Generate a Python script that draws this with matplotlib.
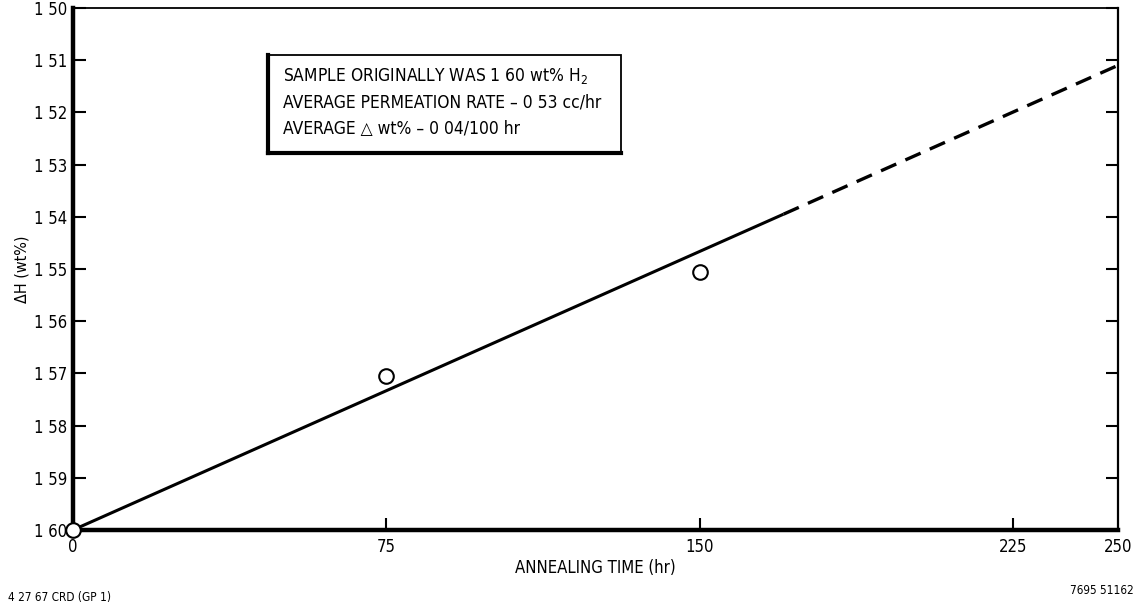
import matplotlib.pyplot as plt
from matplotlib import font_manager
from matplotlib.patches import Rectangle

# prefer a narrow face if one is installed
names = {f.name for f in font_manager.fontManager.ttflist}
if 'Liberation Sans Narrow' in names:
    plt.rcParams['font.family'] = ['Liberation Sans Narrow', 'DejaVu Sans']
else:
    plt.rcParams['font.family'] = ['DejaVu Sans']
    plt.rcParams['font.stretch'] = 'condensed'

# measured points
time_hr = [0, 75, 150]
delta_h = [1.600, 1.5705, 1.5505]

# fitted line: solid over measured range, dashed extrapolation
fit_solid_t = [0, 170]
fit_solid_h = [1.600, 1.5395]
fit_dash_t = [170, 250]
fit_dash_h = [1.5395, 1.511]

y_ticks = [1.50, 1.51, 1.52, 1.53, 1.54, 1.55, 1.56, 1.57, 1.58, 1.59, 1.60]
y_labels = ['1 50', '1 51', '1 52', '1 53', '1 54', '1 55', '1 56', '1 57', '1 58', '1 59', '1 60']
x_ticks = [0, 75, 150, 225, 250]
x_labels = ['0', '75', '150', '225', '250']

note_lines = [
    'SAMPLE ORIGINALLY WAS 1 60 wt% H$_2$',
    'AVERAGE PERMEATION RATE \u2013 0 53 cc/hr',
    'AVERAGE \u25b3 wt% \u2013 0 04/100 hr',
]

fig = plt.figure(figsize=(11.38, 6.12), dpi=100)
ax = fig.add_axes([0.0641, 0.134, 0.9183, 0.853])

ax.plot(fit_solid_t, fit_solid_h, color='black', lw=2.2, solid_capstyle='butt')
ax.plot(fit_dash_t, fit_dash_h, color='black', lw=2.4, dashes=(5, 3))
ax.plot(time_hr, delta_h, 'o', ms=10.5, mfc='white', mec='black', mew=1.5,
        clip_on=False, zorder=5)

ax.set_xlim(0, 250)
ax.set_ylim(1.60, 1.50)

ax.set_yticks(y_ticks)
ax.set_yticklabels(y_labels, fontsize=12)
ax.set_xticks(x_ticks)
ax.set_xticklabels(x_labels, fontsize=12)
ax.tick_params(axis='y', direction='in', length=9, width=1.5, right=True, pad=4)
ax.tick_params(axis='x', direction='in', length=9, width=1.5, pad=6)
ax.xaxis.get_major_ticks()[0].tick1line.set_visible(False)
ax.xaxis.get_major_ticks()[-1].tick1line.set_visible(False)

for side, w in [('left', 3.2), ('bottom', 3.2), ('top', 1.3), ('right', 1.6)]:
    ax.spines[side].set_linewidth(w)

ax.set_xlabel('ANNEALING TIME (hr)', fontsize=12, labelpad=2)
ax.set_ylabel('\u0394H (wt%)', fontsize=11.5, labelpad=3)

# annotation box (thicker left and bottom edges like the original)
bx0, by0, bw, bh = 268 / 1138, 1 - 153 / 612, (621 - 268) / 1138, (153 - 55) / 612
fig.patches.append(Rectangle((bx0, by0), bw, bh, transform=fig.transFigure,
                             fill=False, ec='black', lw=1.3))
fig.add_artist(plt.Line2D([bx0, bx0], [by0, by0 + bh], transform=fig.transFigure,
                          color='black', lw=3))
fig.add_artist(plt.Line2D([bx0, bx0 + bw], [by0, by0], transform=fig.transFigure,
                          color='black', lw=3))
for i, line in enumerate(note_lines):
    fig.text(283 / 1138, 1 - (76 + i * 26.5) / 612, line, fontsize=12.5,
             va='center', ha='left')

fig.text(8 / 1138, 1 - 598 / 612, '4 27 67 CRD (GP 1)', fontsize=8.5, va='center')
fig.text(1134 / 1138, 1 - 590 / 612, '7695 51162', fontsize=8.5, va='center', ha='right')

fig.savefig('out.png', dpi=100, facecolor='white')
